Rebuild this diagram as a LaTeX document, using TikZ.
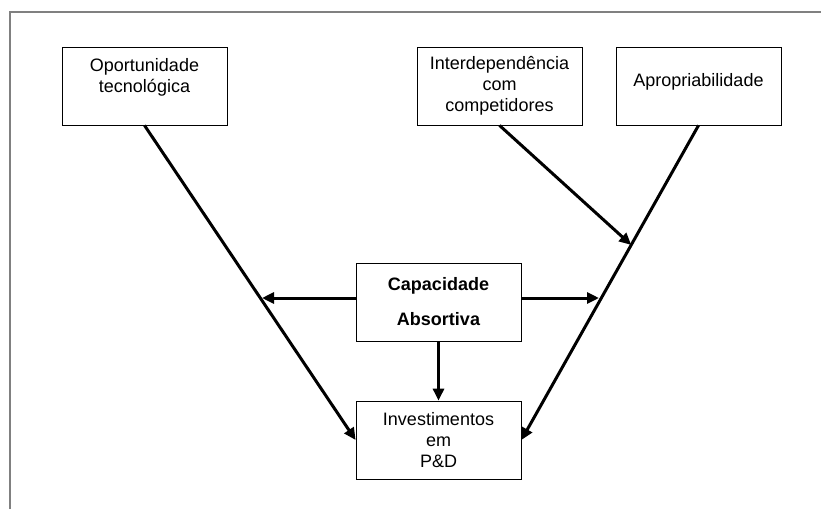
\documentclass[tikz,border=0pt]{standalone}
\usepackage{fontspec}
\setmainfont{Liberation Sans}
\usetikzlibrary{arrows.meta,calc}

\tikzset{
  factor/.style={draw, line width=0.8pt, minimum width=165pt, minimum height=78pt,
    inner sep=0pt, align=center, font=\fontsize{18}{21}\selectfont},
  flow/.style={line width=3pt, -{Triangle[length=12pt,width=11pt]}},
}

\begin{document}
\begin{tikzpicture}[x=1pt,y=1pt]
\useasboundingbox (0,0) rectangle (821,-509);
\draw [gray, line width=1.2pt] (10,-509) -- (10,-12) -- (821,-12);

\node [factor] (opp)  at (144.5,-86) {Oportunidade\\tecnológica\\\mbox{}};
\node [factor] (inter) at (499.5,-86) {Interdependência\\com\\competidores};
\node [factor] (apro) at (698.5,-86) {\mbox{}\\Apropriabilidade\\\mbox{}};
\node [factor, font=\fontsize{18}{35}\selectfont\bfseries]
                (cap)  at (438.5,-302) {Capacidade\\Absortiva};
\node [factor] (inv)  at (438.5,-440) {Investimentos\\em\\P\&D};

\coordinate (meet) at ($(apro.south)!0.38!(inv.east)$);
\coordinate (capL) at (262,-298);
\coordinate (capR) at (599,-298);

\draw [flow] (opp.south) -- (inv.west);
\draw [flow] (apro.south) -- (inv.east);
\draw [flow] (inter.south) -- (meet);
\draw [flow] ([yshift=4pt]cap.west) -- (capL);
\draw [flow] ([yshift=4pt]cap.east) -- (capR);
\draw [flow] (cap.south) -- (inv.north);
\end{tikzpicture}
\end{document}
